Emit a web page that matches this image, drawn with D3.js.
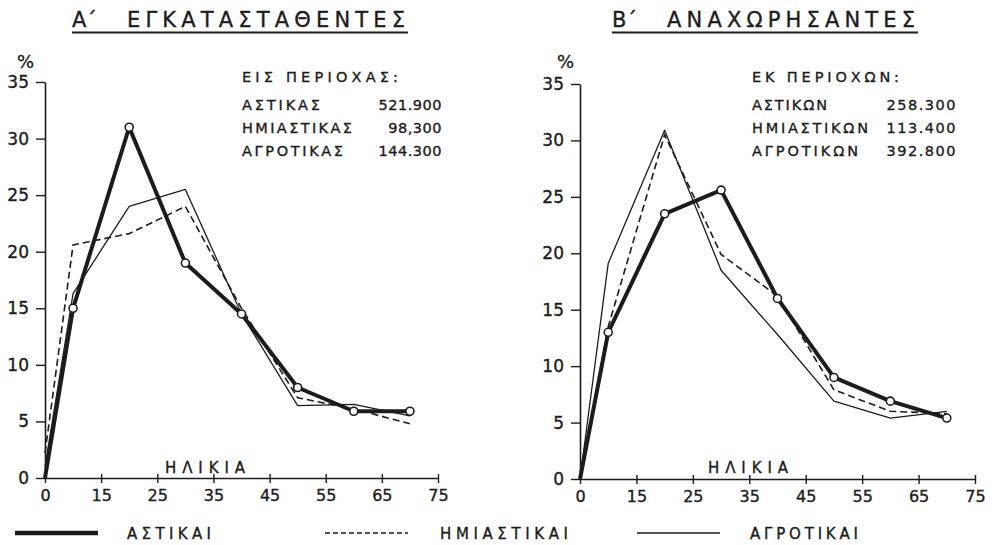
<!DOCTYPE html>
<html><head><meta charset="utf-8">
<script src="https://cdn.jsdelivr.net/npm/d3@7"></script>
<style>
body{margin:0;background:#fff;}
svg text{font-family:"DejaVu Sans","Liberation Sans",sans-serif;fill:#1c1c1c;stroke:#1c1c1c;stroke-width:0.35px;}
</style></head>
<body><svg id="c" width="996" height="545"></svg>
<script>
// ---- data ----
const ages = [0, 7.5, 20, 30, 40, 50, 60, 70];
const xTicks = [0, 15, 25, 35, 45, 55, 65, 75];
const yTicks = [0, 5, 10, 15, 20, 25, 30, 35];
const seriesNames = ["ΑΣΤΙΚΑΙ", "ΗΜΙΑΣΤΙΚΑΙ", "ΑΓΡΟΤΙΚΑΙ"];
const leftAstikai     = [0, 15, 31, 19, 14.5, 8, 5.9, 5.9];
const leftHmiastikai  = [2.2, 20.6, 21.6, 24, 15, 7.1, 6.1, 4.8];
const leftAgrotikai   = [1, 16.3, 24, 25.5, 14.5, 6.4, 6.5, 5.5];
const rightAstikai    = [0, 13, 23.5, 25.6, 16, 9, 6.9, 5.4];
const rightHmiastikai = [0, 13.5, 30.5, 19.9, 16.2, 7.9, 6.0, 5.8];
const rightAgrotikai  = [0, 19.1, 30.9, 18.5, 12.8, 6.9, 5.4, 6.0];
const leftTitlePrefix = "Α΄", leftTitle = "ΕΓΚΑΤΑΣΤΑΘΕΝΤΕΣ";
const rightTitlePrefix = "Β΄", rightTitle = "ΑΝΑΧΩΡΗΣΑΝΤΕΣ";
const leftInsetHead = "ΕΙΣ  ΠΕΡΙΟΧΑΣ:";
const leftInsetLabels = ["ΑΣΤΙΚΑΣ", "ΗΜΙΑΣΤΙΚΑΣ", "ΑΓΡΟΤΙΚΑΣ"];
const leftInsetValues = ["521.900", "98,300", "144.300"];
const rightInsetHead = "ΕΚ  ΠΕΡΙΟΧΩΝ:";
const rightInsetLabels = ["ΑΣΤΙΚΩΝ", "ΗΜΙΑΣΤΙΚΩΝ", "ΑΓΡΟΤΙΚΩΝ"];
const rightInsetValues = ["258.300", "113.400", "392.800"];
const xAxisLabel = "ΗΛΙΚΙΑ";

// ---- drawing ----
const svg = d3.select("#c");
const ink = "#1c1c1c";

function panel(cfg){
  const g = svg.append("g");
  const x = d3.scaleLinear().domain([0, 15, 75]).range([cfg.x0, cfg.x0 + (cfg.x1-cfg.x0)/7, cfg.x1]);
  const y = d3.scaleLinear().domain([0, 35]).range([cfg.y0, cfg.y1]);

  const ya = g.append("g").attr("transform", `translate(${cfg.x0},0)`)
    .call(d3.axisLeft(y).tickValues(yTicks).tickSize(9).tickSizeOuter(0).tickPadding(7));
  ya.select(".domain").attr("stroke", ink).attr("stroke-width", 1.6);
  ya.selectAll("line").attr("stroke", ink).attr("stroke-width", 1.4);
  ya.selectAll("text").attr("font-size", 17).attr("fill", ink).style("font-family","DejaVu Sans");

  const xa = g.append("g").attr("transform", `translate(0,${cfg.y0})`)
    .call(d3.axisBottom(x).tickValues(xTicks).tickSize(5).tickSizeOuter(0).tickPadding(7));
  xa.select(".domain").attr("stroke", ink).attr("stroke-width", 1.6);
  xa.selectAll(".tick line").attr("y1", -4).attr("stroke", ink).attr("stroke-width", 1.4);
  xa.selectAll("text").attr("font-size", 16).attr("fill", ink).style("font-family","DejaVu Sans");

  const line = d3.line().x((d,i)=>x(ages[i])).y(d=>y(d));
  g.append("path").datum(cfg.agro).attr("d", line).attr("fill","none").attr("stroke",ink).attr("stroke-width",1.3).attr("stroke-linejoin","round");
  g.append("path").datum(cfg.hmi).attr("d", line).attr("fill","none").attr("stroke",ink).attr("stroke-width",1.6).attr("stroke-dasharray","7,4");
  g.append("path").datum(cfg.ast).attr("d", line).attr("fill","none").attr("stroke",ink).attr("stroke-width",4).attr("stroke-linejoin","round");
  g.selectAll("circle").data(cfg.ast.slice(1)).join("circle")
    .attr("cx",(d,i)=>x(ages[i+1])).attr("cy",d=>y(d)).attr("r",4)
    .attr("fill","#fff").attr("stroke",ink).attr("stroke-width",1.6);

  // % label
  g.append("text").attr("x", cfg.pctX).attr("y", 68).attr("font-size", 18).text("%");
  // age label
  g.append("text").attr("x", cfg.ageX).attr("y", 473).attr("font-size", 15)
    .attr("textLength", 80).attr("lengthAdjust","spacing").text(xAxisLabel);

  // title
  g.append("text").attr("x", cfg.tX).attr("y", 27).attr("font-size", 21).text(cfg.tPrefix);
  g.append("text").attr("x", cfg.tX2).attr("y", 27).attr("font-size", 21)
    .attr("textLength", cfg.tLen).attr("lengthAdjust","spacing").text(cfg.title);
  g.append("line").attr("x1", cfg.tX).attr("x2", cfg.tX2 + cfg.tLen + 3).attr("y1", 32.5).attr("y2", 32.5)
    .attr("stroke", ink).attr("stroke-width", 1.8);

  // inset
  g.append("text").attr("x", cfg.iX).attr("y", 82).attr("font-size", 14.5)
    .attr("textLength", cfg.headLen).attr("lengthAdjust","spacing").text(cfg.head);
  cfg.labels.forEach((l,i)=>{
    g.append("text").attr("x", cfg.iX).attr("y", 110 + i*23).attr("font-size", 14.5)
      .attr("textLength", cfg.labLens[i]).attr("lengthAdjust","spacing").text(l);
    g.append("text").attr("x", cfg.vX).attr("y", 110 + i*23).attr("font-size", 14.5)
      .attr("text-anchor","end").attr("letter-spacing", cfg.vSp).text(cfg.values[i]);
  });
}

panel({x0:45, x1:438, y0:478, y1:82, ast:leftAstikai, hmi:leftHmiastikai, agro:leftAgrotikai,
  pctX:17, ageX:165, tX:72, tX2:127, tLen:278, tPrefix:leftTitlePrefix, title:leftTitle,
  iX:242, head:leftInsetHead, headLen:156, labels:leftInsetLabels, labLens:[78,110,101],
  values:leftInsetValues, vX:442, vSp:0.5});
panel({x0:580, x1:975, y0:479, y1:84, ast:rightAstikai, hmi:rightHmiastikai, agro:rightAgrotikai,
  pctX:557, ageX:708, tX:612, tX2:667, tLen:248, tPrefix:rightTitlePrefix, title:rightTitle,
  iX:752, head:rightInsetHead, headLen:147, labels:rightInsetLabels, labLens:[75,116,106],
  values:rightInsetValues, vX:957, vSp:1.5});

// legend
const lg = svg.append("g");
const legendItems = [
  {name: seriesNames[0], x1:15, x2:98, w:4.5, dash:null, tx:127, tl:84},
  {name: seriesNames[1], x1:325, x2:408, w:1.6, dash:"5,3", tx:440, tl:128},
  {name: seriesNames[2], x1:637, x2:720, w:1.4, dash:null, tx:750, tl:108}
];
legendItems.forEach(d=>{
  lg.append("line").attr("x1",d.x1).attr("x2",d.x2).attr("y1",533).attr("y2",533)
    .attr("stroke",ink).attr("stroke-width",d.w).attr("stroke-dasharray",d.dash);
  lg.append("text").attr("x",d.tx).attr("y",539).attr("font-size",15)
    .attr("textLength",d.tl).attr("lengthAdjust","spacing").text(d.name);
});
</script></body></html>
